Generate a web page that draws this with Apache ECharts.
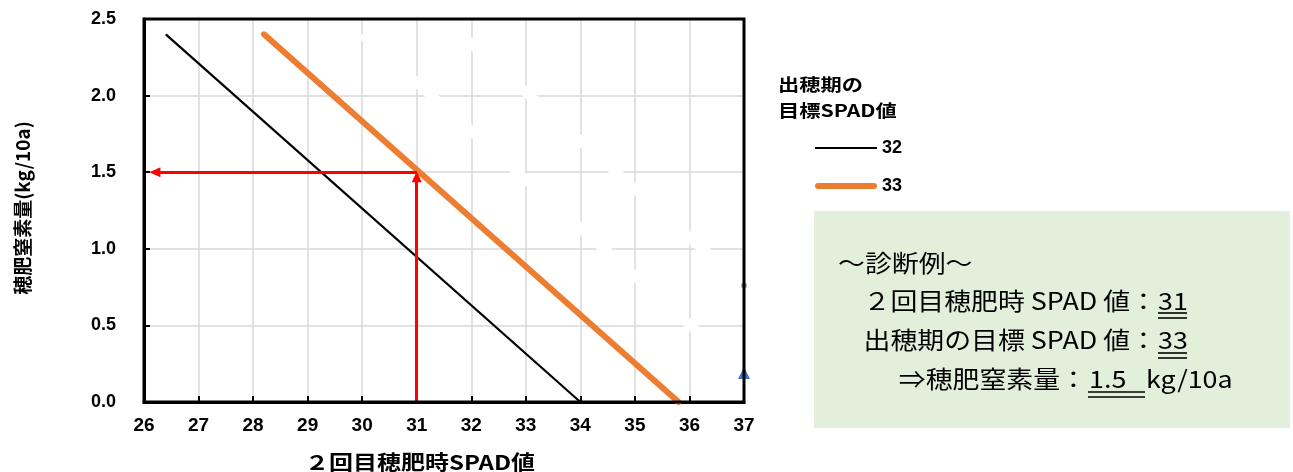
<!DOCTYPE html>
<html>
<head>
<meta charset="utf-8">
<script src="https://cdn.jsdelivr.net/npm/echarts@6/dist/echarts.min.js"></script>
<style>
html,body{margin:0;padding:0;background:#fff;}
#chart{width:1293px;height:472px;}
</style>
</head>
<body>
<div id="chart"></div>
<script>
// ---- data ----
const xTicks = [26, 37, 1];            // min, max, step of 2回目穂肥時SPAD値
const yTicks = [0, 2.5, 0.5];          // min, max, step of 穂肥窒素量
const legendNames = ['32', '33'];
const spad32 = [26.4, 34.0];
const nitrogen32 = [2.4, 0.0];
const spad33 = [28.2, 35.8];
const nitrogen33 = [2.4, 0.0];
// faint (white) lines in the original
const spad34 = [30.0, 37.0];
const nitrogen34 = [2.4, 0.19];
const spad35 = [31.8, 37.0];
const nitrogen35 = [2.4, 0.76];
// diagnosis example
const exampleSpad = 31;
const exampleTarget = 33;
const exampleN = 1.5;
const arrowLeftX = 26.2;

const FONT_LATIN = 'Liberation Sans, Arial, sans-serif';
const FONT_CJK = '"Noto Sans CJK JP", sans-serif';

function pairs(xs, ys) { return xs.map((x, i) => [x, ys[i]]); }

const chart = echarts.init(document.getElementById('chart'), null, {renderer: 'canvas'});

const G = {left: 144, top: 19, width: 600, height: 383};

const boxTextStyle = {fontSize: 24, fontFamily: FONT_CJK, fill: '#000'};
const SX = 1.12;

function ul(x1, x2, y) {
  return {type: 'line', z: 20, shape: {x1: x1, y1: y, x2: x2, y2: y}, style: {stroke: '#000', lineWidth: 1.6}};
}

const option = {
  backgroundColor: '#fff',
  animation: false,
  grid: {left: G.left, top: G.top, width: G.width, height: G.height, containLabel: false},
  xAxis: {
    type: 'value', min: xTicks[0], max: xTicks[1], interval: xTicks[2],
    axisLine: {show: true, lineStyle: {color: '#000', width: 3}},
    axisTick: {show: true, inside: true, length: 6, lineStyle: {color: '#000', width: 2}},
    axisLabel: {color: '#000', fontWeight: 'bold', fontSize: 19, fontFamily: FONT_LATIN, margin: 14},
    splitLine: {show: true, showMinLine: false, showMaxLine: false, lineStyle: {color: '#D9D9D9', width: 1.5}}
  },
  yAxis: {
    type: 'value', min: yTicks[0], max: yTicks[1], interval: yTicks[2],
    axisLine: {show: true, lineStyle: {color: '#000', width: 3}},
    axisTick: {show: true, inside: true, length: 6, lineStyle: {color: '#000', width: 2}},
    axisLabel: {color: '#000', fontWeight: 'bold', fontSize: 18, fontFamily: FONT_LATIN, margin: 28,
      formatter: v => v.toFixed(1)},
    splitLine: {show: true, showMinLine: false, showMaxLine: false, lineStyle: {color: '#D9D9D9', width: 1.5}}
  },
  legend: {
    data: [
      {name: legendNames[0], icon: 'path://M0,0H62V2.2H0Z'},
      {name: legendNames[1], icon: 'path://M3,0H59A3,3 0 0 1 59,6H3A3,3 0 0 1 3,0Z'}
    ],
    orient: 'vertical', left: 810, top: 134,
    itemWidth: 62, itemHeight: 14, itemGap: 20, symbolKeepAspect: true,
    textStyle: {color: '#000', fontWeight: 'bold', fontSize: 18, fontFamily: FONT_LATIN},
    selectedMode: false
  },
  series: [
    {
      name: '34', type: 'line', z: 2, silent: true,
      data: pairs(spad34, nitrogen34).map((p, i, a) => i === a.length - 1
        ? {value: p, symbol: 'triangle', symbolSize: 12, itemStyle: {color: '#4472C4'}}
        : {value: p, symbol: 'none'}),
      lineStyle: {color: '#fff', width: 10}, itemStyle: {color: '#fff'}
    },
    {
      name: '35', type: 'line', z: 2, silent: true,
      data: pairs(spad35, nitrogen35).map((p, i, a) => i === a.length - 1
        ? {value: p, symbol: 'circle', symbolSize: 6, itemStyle: {color: '#A5A5A5'}}
        : {value: p, symbol: 'none'}),
      lineStyle: {color: '#fff', width: 10}, itemStyle: {color: '#fff'}
    },
    {
      name: '32', type: 'line', z: 4, silent: true, symbol: 'none',
      data: pairs(spad32, nitrogen32),
      color: '#000', lineStyle: {color: '#000', width: 2.2}
    },
    {
      name: '33', type: 'line', z: 4, silent: true, symbol: 'none',
      data: pairs(spad33, nitrogen33),
      color: '#ED7D31', lineStyle: {color: '#ED7D31', width: 6, cap: 'round'}
    },
    {
      name: 'diagnosis', type: 'line', z: 3, silent: true, symbol: 'none', data: [],
      markLine: {
        silent: true, animation: false,
        symbol: ['none', 'triangle'], symbolSize: [10, 11],
        label: {show: false},
        lineStyle: {color: '#FF0000', width: 3, type: 'solid'},
        emphasis: {disabled: true},
        data: [
          [{coord: [exampleSpad, 0]}, {coord: [exampleSpad, exampleN - 0.03]}],
          [{coord: [exampleSpad, exampleN]}, {coord: [arrowLeftX, exampleN]}]
        ]
      }
    }
  ],
  graphic: [
    // plot frame
    {type: 'rect', z: 50, silent: true, shape: {x: G.left, y: G.top, width: G.width, height: G.height},
      style: {fill: null, stroke: '#000', lineWidth: 3}},
    // axis titles
    {type: 'text', z: 50, x: 420, y: 462, scaleX: 1.2,
      style: {text: '２回目穂肥時SPAD値', align: 'center', verticalAlign: 'middle', fontSize: 20, fontWeight: 'bold', fontFamily: FONT_CJK, fill: '#000'}},
    {type: 'text', z: 50, x: 23, y: 208, rotation: Math.PI / 2,
      style: {text: '穂肥窒素量(kg/10a)', align: 'center', verticalAlign: 'middle', fontSize: 19, fontWeight: 'bold', fontFamily: FONT_CJK, fill: '#000'}},
    // legend title
    {type: 'text', z: 50, x: 778, y: 85, scaleX: 1.25,
      style: {text: '出穂期の', align: 'left', verticalAlign: 'middle', fontSize: 17, fontWeight: 'bold', fontFamily: FONT_CJK, fill: '#000'}},
    {type: 'text', z: 50, x: 778, y: 111, scaleX: 1.25,
      style: {text: '目標SPAD値', align: 'left', verticalAlign: 'middle', fontSize: 17, fontWeight: 'bold', fontFamily: FONT_CJK, fill: '#000'}},
    // diagnosis box
    {type: 'rect', z: 10, silent: true, shape: {x: 814, y: 211, width: 476, height: 217}, style: {fill: '#E2EFDA'}},
    {type: 'text', z: 20, x: 838, y: 263, scaleX: SX,
      style: Object.assign({text: '～診断例～', align: 'left', verticalAlign: 'middle'}, boxTextStyle)},
    {type: 'text', z: 20, x: 1157, y: 301, scaleX: SX,
      style: Object.assign({text: '２回目穂肥時 SPAD 値：', align: 'right', verticalAlign: 'middle'}, boxTextStyle)},
    {type: 'text', z: 20, x: 1158, y: 301, scaleX: SX,
      style: Object.assign({text: String(exampleSpad), align: 'left', verticalAlign: 'middle'}, boxTextStyle)},
    {type: 'text', z: 20, x: 1157, y: 340, scaleX: SX,
      style: Object.assign({text: '出穂期の目標 SPAD 値：', align: 'right', verticalAlign: 'middle'}, boxTextStyle)},
    {type: 'text', z: 20, x: 1158, y: 340, scaleX: SX,
      style: Object.assign({text: String(exampleTarget), align: 'left', verticalAlign: 'middle'}, boxTextStyle)},
    {type: 'text', z: 20, x: 1087, y: 379, scaleX: SX,
      style: Object.assign({text: '⇒穂肥窒素量：', align: 'right', verticalAlign: 'middle'}, boxTextStyle)},
    {type: 'text', z: 20, x: 1089, y: 379, scaleX: SX,
      style: Object.assign({text: exampleN.toFixed(1), align: 'left', verticalAlign: 'middle'}, boxTextStyle)},
    {type: 'text', z: 20, x: 1146, y: 379, scaleX: SX,
      style: Object.assign({text: 'kg/10a', align: 'left', verticalAlign: 'middle'}, boxTextStyle)},
    ul(1158, 1187, 313), ul(1158, 1187, 318),
    ul(1158, 1187, 353), ul(1158, 1187, 358),
    ul(1088, 1145, 392), ul(1088, 1145, 397)
  ]
};

chart.setOption(option);
</script>
</body>
</html>
